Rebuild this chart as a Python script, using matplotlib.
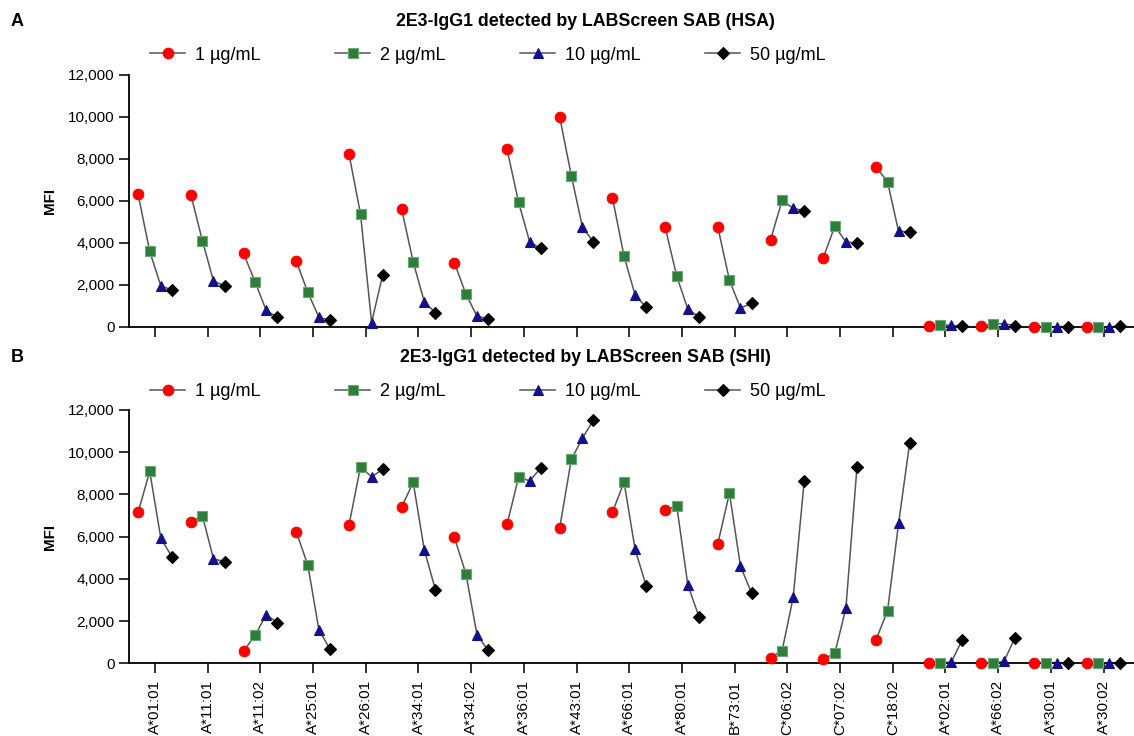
import matplotlib
matplotlib.use("Agg")
import matplotlib.pyplot as plt
from matplotlib.lines import Line2D
from matplotlib.ticker import FuncFormatter

plt.rcParams['font.family'] = ['Liberation Sans', 'DejaVu Sans']

alleles = ["A*01:01", "A*11:01", "A*11:02", "A*25:01", "A*26:01", "A*34:01",
           "A*34:02", "A*36:01", "A*43:01", "A*66:01", "A*80:01", "B*73:01",
           "C*06:02", "C*07:02", "C*18:02", "A*02:01", "A*66:02", "A*30:01",
           "A*30:02"]

doses = ["1 \u00b5g/mL", "2 \u00b5g/mL", "10 \u00b5g/mL", "50 \u00b5g/mL"]

# HSA panel (A)
hsa_1 = [6300, 6290, 3490, 3130, 8240, 5600, 3050, 8445, 9970, 6140,
         4745, 4745, 4130, 3270, 7620, 30, 40, 10, 10]
hsa_2 = [3590, 4095, 2130, 1635, 5365, 3080, 1555, 5920, 7200, 3365,
         2410, 2220, 6015, 4795, 6900, 100, 130, 0, 0]
hsa_10 = [1950, 2170, 780, 450, 200, 1180, 500, 4040, 4750, 1510,
          840, 890, 5640, 4035, 4540, 60, 150, 0, 0]
hsa_50 = [1750, 1950, 445, 300, 2460, 670, 380, 3730, 4030, 920,
          475, 1110, 5520, 3985, 4520, 20, 40, 10, 20]

# SHI panel (B)
shi_1 = [7150, 6700, 570, 6230, 6530, 7400, 5975, 6580, 6420, 7150,
         7240, 5660, 270, 190, 1105, 0, 0, 0, 0]
shi_2 = [9090, 6990, 1330, 4650, 9310, 8570, 4240, 8820, 9660, 8585,
         7460, 8060, 600, 475, 2480, 0, 0, 0, 0]
shi_10 = [5930, 4940, 2300, 1590, 8830, 5370, 1350, 8640, 10660, 5400,
          3720, 4590, 3120, 2610, 6630, 60, 90, 0, 0]
shi_50 = [5045, 4820, 1930, 665, 9185, 3495, 615, 9250, 11525, 3670,
          2215, 3335, 8650, 9280, 10435, 1120, 1220, 10, 10]

offsets = [-0.32, -0.1, 0.11, 0.32]
markers = ['o', 's', '^', 'D']
msizes = [7.6, 7.4, 7.6, 6.2]
fcolors = ['#ff0000', '#2e7d3a', '#14108c', '#000000']
ecolors = ['#ff0000', '#6aa874', '#14108c', '#000000']
line_col = '#555555'

fig = plt.figure(figsize=(11.34, 7.36), dpi=100)
axA = fig.add_axes([0.1140, 0.5561, 0.886, 0.3424])
axB = fig.add_axes([0.1140, 0.0988, 0.886, 0.3442])


def draw_panel(ax, series, title, letter, ytitle, yleg, show_labels):
    n = len(alleles)
    for i in range(n):
        xs = [i + o for o in offsets]
        ys = [s[i] for s in series]
        ax.plot(xs, ys, color=line_col, lw=1.1, zorder=2, clip_on=False)
    for k, s in enumerate(series):
        xs = [i + offsets[k] for i in range(n)]
        ax.plot(xs, s, ls='none', marker=markers[k], ms=msizes[k],
                mfc=fcolors[k], mec=ecolors[k], mew=0.8, zorder=4,
                clip_on=False)

    ax.set_xlim(-0.488, 18.577)
    ax.set_ylim(0, 12000)
    ax.set_yticks(range(0, 12001, 2000))
    ax.yaxis.set_major_formatter(FuncFormatter(lambda v, p: f"{int(v):,}"))
    ax.set_xticks(range(n))
    if show_labels:
        ax.set_xticklabels(alleles, rotation=90, fontsize=11)
    else:
        ax.set_xticklabels([])
    for sp in ['top', 'right']:
        ax.spines[sp].set_visible(False)
    for sp in ['left', 'bottom']:
        ax.spines[sp].set_linewidth(1.3)
    ax.tick_params(axis='both', direction='out', length=7, width=1.3,
                   labelsize=11, color='#222222')
    ax.tick_params(axis='x', pad=5)
    ax.set_ylabel("MFI", fontsize=11, fontweight='bold', labelpad=8)

    fig.text(585 / 1134, ytitle, title, ha='center', va='center',
             fontsize=12.8, fontweight='bold')
    fig.text(11 / 1134, ytitle, letter, ha='left', va='center',
             fontsize=13, fontweight='bold')

    # one legend per dose so the entries sit at an even pitch
    for k in range(4):
        h = Line2D([], [], color=line_col, lw=1.1, marker=markers[k],
                   ms=msizes[k], mfc=fcolors[k], mec=ecolors[k], mew=0.8)
        fig.legend([h], [doses[k]], loc='center left',
                   bbox_to_anchor=((150 + 185 * k) / 1134, yleg),
                   frameon=False, fontsize=13, handlelength=1.95,
                   handletextpad=0.55, borderpad=0, borderaxespad=0)


draw_panel(axA, [hsa_1, hsa_2, hsa_10, hsa_50],
           "2E3-IgG1 detected by LABScreen SAB (HSA)", "A",
           (736 - 22) / 736, (736 - 55) / 736, False)
draw_panel(axB, [shi_1, shi_2, shi_10, shi_50],
           "2E3-IgG1 detected by LABScreen SAB (SHI)", "B",
           (736 - 358) / 736, (736 - 392) / 736, True)

fig.savefig("out.png", dpi=100)
